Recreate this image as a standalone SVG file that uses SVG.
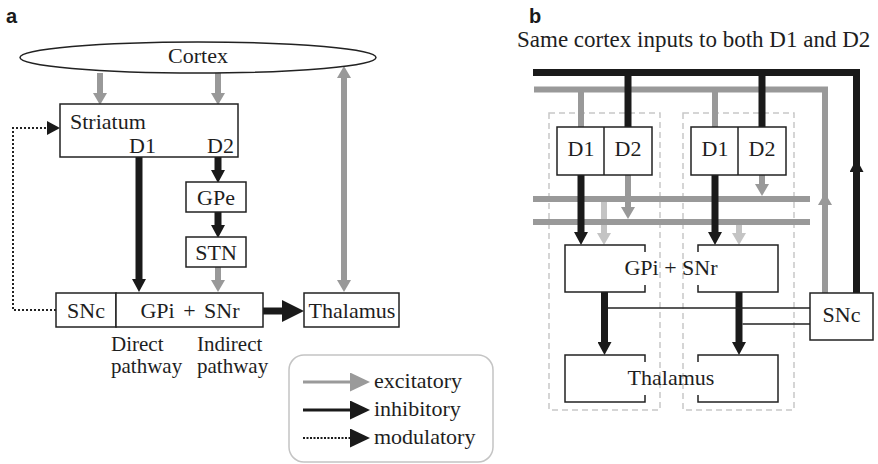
<svg xmlns="http://www.w3.org/2000/svg" width="878" height="464" viewBox="0 0 878 464">
  <style>
    .lbl { font-family: "Liberation Sans", Arial, sans-serif; font-weight: bold; font-size: 20px; fill: #1a1a1a; }
    .t { font-family: "Liberation Serif", "Times New Roman", serif; font-size: 22px; fill: #1e1e1e; }
    .small { font-size: 21px; }
    .title { font-size: 23px; }
    .mid { text-anchor: middle; }
    .box { fill: #ffffff; stroke: #222; stroke-width: 1.5; }
    .edge { fill: none; stroke: #222; stroke-width: 1.5; }
    .exc { fill: none; stroke: #999999; stroke-width: 6; }
    .exc2 { fill: none; stroke: #c4c4c4; stroke-width: 6; }
    .inh { fill: none; stroke: #1a1a1a; stroke-width: 7; }
    .mod { fill: none; stroke: #222; stroke-width: 2; stroke-dasharray: 2 2; }
    .thin { fill: none; stroke: #222; stroke-width: 1.5; }
    .dash { fill: none; stroke: #c8c8c8; stroke-width: 1.5; stroke-dasharray: 6 4; }
  </style>
  <defs>
    <marker id="hG" markerUnits="userSpaceOnUse" markerWidth="12" markerHeight="14" refX="0" refY="7" orient="auto-start-reverse">
      <path d="M0,0 L12,7 L0,14 z" fill="#999999"/>
    </marker>
    <marker id="hL" markerUnits="userSpaceOnUse" markerWidth="12" markerHeight="14" refX="0" refY="7" orient="auto">
      <path d="M0,0 L12,7 L0,14 z" fill="#c4c4c4"/>
    </marker>
    <marker id="hK" markerUnits="userSpaceOnUse" markerWidth="13" markerHeight="14" refX="0" refY="7" orient="auto">
      <path d="M0,0 L13,7 L0,14 z" fill="#1a1a1a"/>
    </marker>
    <marker id="hKbig" markerUnits="userSpaceOnUse" markerWidth="22" markerHeight="22" refX="0" refY="11" orient="auto">
      <path d="M0,0 L22,11 L0,22 z" fill="#1a1a1a"/>
    </marker>
    <marker id="hGleg" markerUnits="userSpaceOnUse" markerWidth="20" markerHeight="19" refX="0" refY="9.5" orient="auto">
      <path d="M0,0 L20,9.5 L0,19 z" fill="#9a9a9a"/>
    </marker>
    <marker id="hKleg" markerUnits="userSpaceOnUse" markerWidth="20" markerHeight="19" refX="0" refY="9.5" orient="auto">
      <path d="M0,0 L20,9.5 L0,19 z" fill="#1a1a1a"/>
    </marker>
  </defs>

  <!-- panel letters -->
  <text class="lbl" x="6" y="23">a</text>
  <text class="lbl" x="529" y="23">b</text>

  <!-- ===== panel a ===== -->
  <g id="a-connectors">
    <path class="exc" d="M100,73 V93" marker-end="url(#hG)"/>
    <path class="exc" d="M218,73 V93" marker-end="url(#hG)"/>
    <path class="exc" d="M344,78 V280" stroke-width="5" marker-start="url(#hG)" marker-end="url(#hG)"/>
    <path class="inh" d="M139,157 V279" marker-end="url(#hK)"/>
    <path class="inh" d="M218,157 V170" marker-end="url(#hK)"/>
    <path class="inh" d="M218,212 V225" marker-end="url(#hK)"/>
    <path class="exc" d="M218,267 V280" marker-end="url(#hG)"/>
    <path class="inh" d="M263,311 H282" marker-end="url(#hKbig)"/>
    <path class="mod" d="M56,310 H13 V128 H47" marker-end="url(#hK)"/>
  </g>

  <g id="a-cortex">
    <ellipse class="box" cx="198" cy="57.5" rx="178" ry="15.5"/>
    <text class="t mid" x="198" y="63">Cortex</text>
  </g>
  <g id="a-striatum">
    <rect class="box" x="60" y="104" width="178" height="53"/>
    <text class="t" x="70" y="129">Striatum</text>
    <text class="t" x="129" y="153">D1</text>
    <text class="t" x="207" y="153">D2</text>
  </g>
  <g id="a-gpe">
    <rect class="box" x="186" y="182" width="60" height="30"/>
    <text class="t mid" x="216" y="205">GPe</text>
  </g>
  <g id="a-stn">
    <rect class="box" x="186" y="237" width="60" height="30"/>
    <text class="t mid" x="216" y="260">STN</text>
  </g>
  <g id="a-snc">
    <rect class="box" x="56" y="293" width="60" height="34"/>
    <text class="t mid" x="86" y="318">SNc</text>
  </g>
  <g id="a-gpi">
    <rect class="box" x="116" y="293" width="147" height="34"/>
    <text class="t mid" x="190" y="318" word-spacing="3">GPi + SNr</text>
  </g>
  <g id="a-thalamus">
    <rect class="box" x="304" y="293" width="95" height="34"/>
    <text class="t mid" x="352" y="318">Thalamus</text>
  </g>
  <g id="a-pathways">
    <text class="t small" x="111" y="351">Direct</text>
    <text class="t small" x="111" y="373">pathway</text>
    <text class="t small" x="197" y="351">Indirect</text>
    <text class="t small" x="197" y="373">pathway</text>
  </g>

  <g id="legend">
    <rect x="289" y="355" width="204" height="107" rx="15" fill="#ffffff" stroke="#c4c4c4" stroke-width="1.5"/>
    <path d="M303,382 H350" stroke="#9a9a9a" stroke-width="3" marker-end="url(#hGleg)"/>
    <text class="t" x="374" y="388">excitatory</text>
    <path d="M303,410 H350" stroke="#1a1a1a" stroke-width="3" marker-end="url(#hKleg)"/>
    <text class="t" x="374" y="416">inhibitory</text>
    <path d="M303,438 H350" stroke="#1a1a1a" stroke-width="2" stroke-dasharray="2 1.5" marker-end="url(#hKleg)"/>
    <text class="t" x="374" y="444">modulatory</text>
  </g>

  <!-- ===== panel b ===== -->
  <text class="t title" x="517" y="47">Same cortex inputs to both D1 and D2</text>

  <g id="b-columns">
    <rect class="dash" x="549" y="113" width="111" height="297"/>
    <rect class="dash" x="683" y="113" width="111" height="297"/>
  </g>

  <g id="b-connectors">
    <!-- shared cortical input lines -->
    <path class="inh" d="M533,72.5 H856.5 V293" stroke-width="6"/>
    <path class="exc" d="M534,89.5 H825 V293"/>
    <path d="M856.5,185 V172" stroke="none" marker-end="url(#hK)"/>
    <path d="M825,217 V205" stroke="none" marker-end="url(#hG)"/>
    <path class="exc" d="M581,89.5 V127"/>
    <path class="exc" d="M715,89.5 V127"/>
    <path class="inh" d="M628,72.5 V127" stroke-width="6"/>
    <path class="inh" d="M762,72.5 V127" stroke-width="6"/>
    <!-- light grey projections to GPi + SNr -->
    <path class="exc2" d="M604,202 V233" marker-end="url(#hL)"/>
    <path class="exc2" d="M739,225 V233" marker-end="url(#hL)"/>
    <!-- horizontal grey bars -->
    <path class="exc" d="M533,199 H810"/>
    <path class="exc" d="M533,222 H810"/>
    <!-- D2 outputs onto the bars -->
    <path class="exc" d="M628,175 V207" marker-end="url(#hG)"/>
    <path class="exc" d="M762,175 V184" marker-end="url(#hG)"/>
    <!-- D1 outputs to GPi + SNr -->
    <path class="inh" d="M581,175 V232" marker-end="url(#hK)"/>
    <path class="inh" d="M715,175 V232" marker-end="url(#hK)"/>
    <!-- GPi + SNr to thalamus -->
    <path class="inh" d="M604.5,292 V342" marker-end="url(#hK)"/>
    <path class="inh" d="M739,292 V342" marker-end="url(#hK)"/>
    <!-- SNc modulation -->
    <path class="thin" d="M608,308 H810"/>
    <path class="thin" d="M742.5,324 H810"/>
  </g>

  <g id="b-d-left">
    <rect class="box" x="557" y="127" width="95" height="48"/>
    <line class="edge" x1="604" y1="127" x2="604" y2="175"/>
    <text class="t mid" x="581" y="156">D1</text>
    <text class="t mid" x="628" y="156">D2</text>
  </g>
  <g id="b-d-right">
    <rect class="box" x="691" y="127" width="95" height="48"/>
    <line class="edge" x1="738" y1="127" x2="738" y2="175"/>
    <text class="t mid" x="715" y="156">D1</text>
    <text class="t mid" x="762" y="156">D2</text>
  </g>
  <g id="b-gpi">
    <path class="edge" d="M645,252 V245 H565 V292 H645 V285"/>
    <path class="edge" d="M698,252 V245 H778 V292 H698 V285"/>
    <text class="t mid" x="671" y="275">GPi + SNr</text>
  </g>
  <g id="b-thalamus">
    <path class="edge" d="M645,362 V355 H565 V402 H645 V395"/>
    <path class="edge" d="M698,362 V355 H778 V402 H698 V395"/>
    <text class="t mid" x="671" y="385">Thalamus</text>
  </g>
  <g id="b-snc">
    <rect class="box" x="810" y="293" width="63" height="47"/>
    <text class="t mid" x="841.5" y="322">SNc</text>
  </g>
</svg>
